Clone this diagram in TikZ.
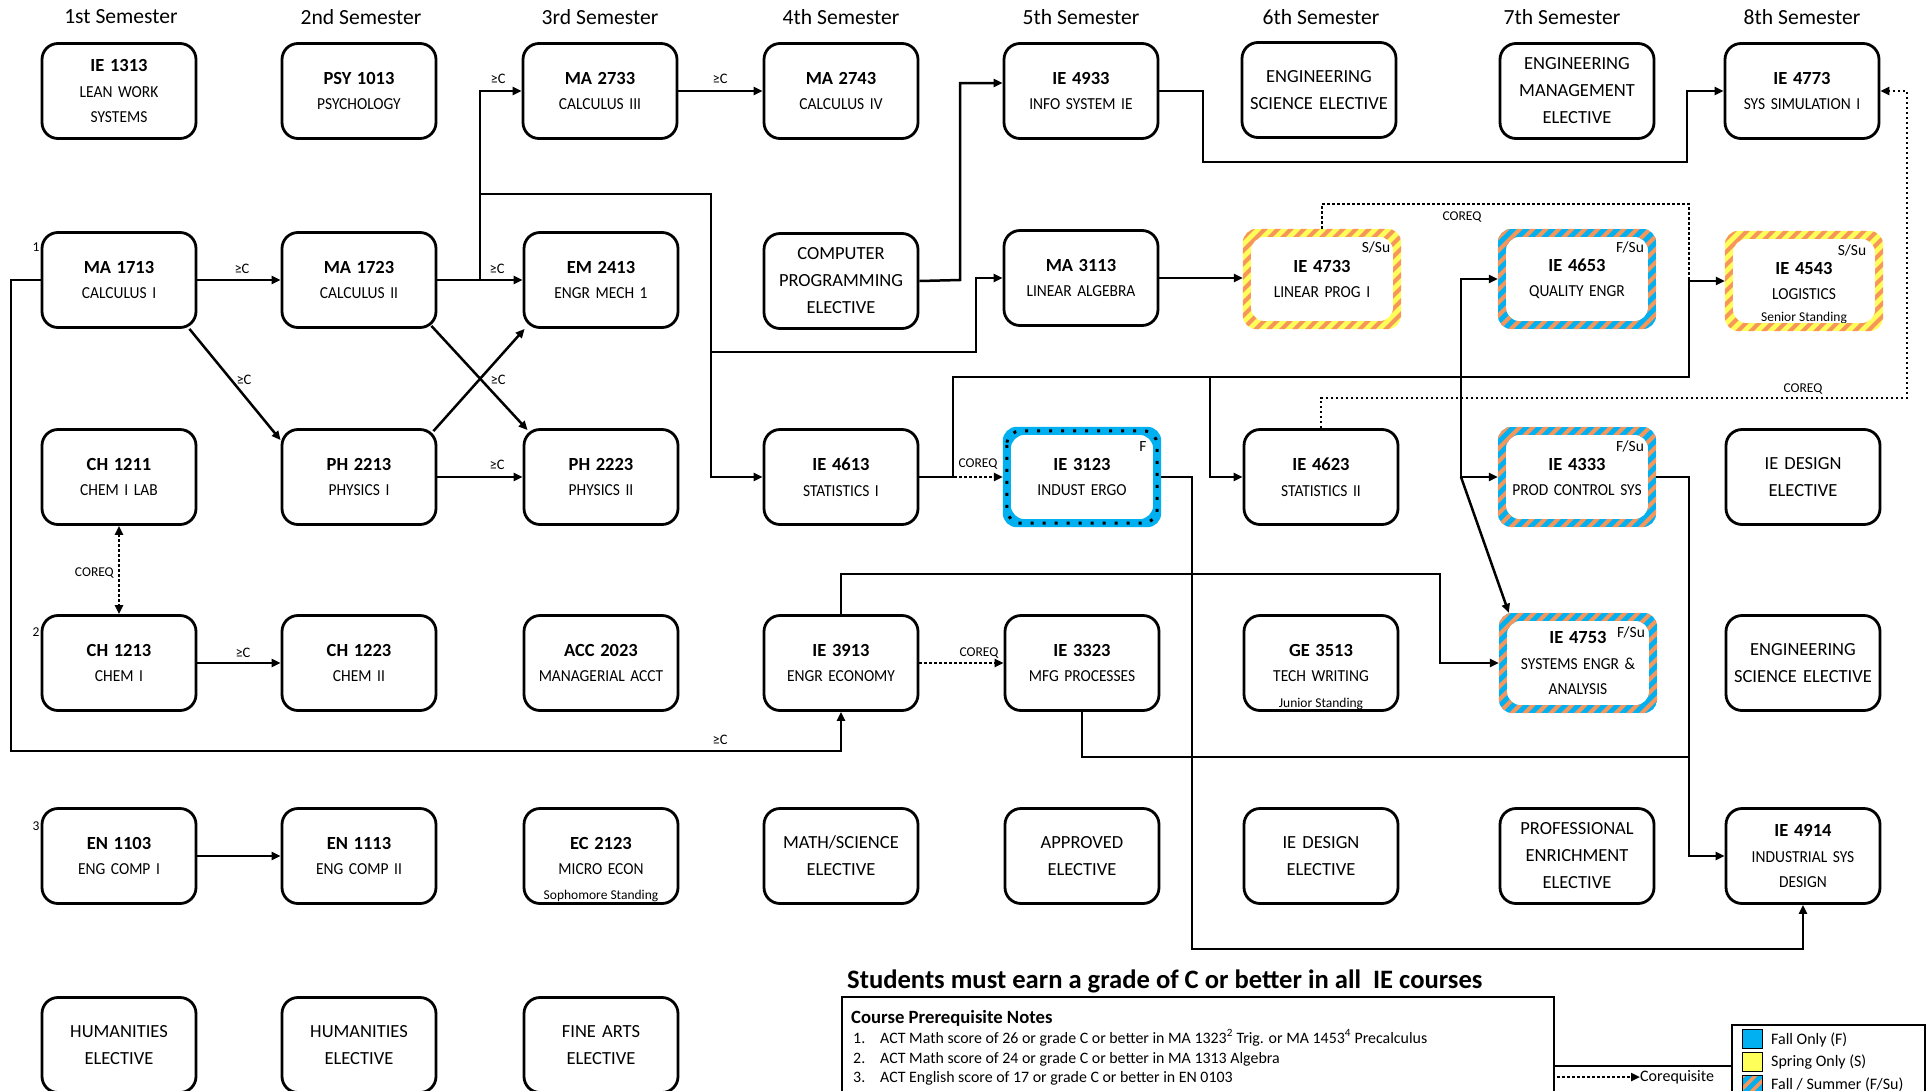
\documentclass[tikz,border=0pt]{standalone}
\usepackage{fontspec}
\setmainfont{Carlito}
\newfontfamily\subfont{Carlito}[FakeStretch=0.92]
\usetikzlibrary{arrows.meta}
\definecolor{fallblue}{RGB}{0,176,240}
\definecolor{springyel}{RGB}{255,255,90}
\definecolor{stripeor}{RGB}{247,150,90}
\tikzset{
  box/.style={draw, line width=2.8pt, rounded corners=16pt, minimum width=154pt, minimum height=95pt, inner sep=0pt, text width=152pt, align=center, font=\subfont\fontsize{16.8}{25.5}\selectfont},
  cbox/.style={minimum width=158pt, minimum height=100pt, inner sep=0pt, text width=150pt, align=center, font=\subfont\fontsize{16.8}{25.5}\selectfont},
  ebox/.style={box, font=\normalfont\fontsize{18.5}{27}\selectfont},
  sem/.style={font=\fontsize{21.6}{24}\selectfont, inner sep=0pt},
  lbl/.style={font=\fontsize{14.5}{15}\selectfont, inner sep=0pt},
  qlbl/.style={font=\fontsize{13.5}{15}\selectfont, inner sep=0pt},
  tag/.style={font=\fontsize{15.5}{17}\selectfont, inner sep=0pt},
  stand/.style={font=\fontsize{13.5}{15}\selectfont, inner sep=0pt},
  conn/.style={line width=2.5pt, -{Triangle[length=9pt,width=8pt]}},
  link/.style={line width=2.5pt},
  coreq/.style={line width=2.8pt, dash pattern=on 2.5pt off 2.5pt, -{Triangle[length=9pt,width=8pt]}},
  coreqln/.style={line width=2.8pt, dash pattern=on 2.5pt off 2.5pt},
  legtxt/.style={font=\fontsize{16}{18}\selectfont, inner sep=0pt, anchor=west},
  notetxt/.style={font=\fontsize{15.9}{17}\selectfont, inner sep=0pt, anchor=base west},
}
\newcommand{\cc}[1]{{\normalfont\fontsize{18.5}{25.5}\selectfont\bfseries #1}}
\newcommand{\stripering}[3]{%
  \begin{scope}[even odd rule]
    \clip[rounded corners=14pt] (#1.north west) rectangle (#1.south east)
      ([shift={(8,8)}]#1.north west) rectangle ([shift={(-8,-8)}]#1.south east);
    \fill[#2] (#1.north west) rectangle (#1.south east);
    \foreach \k in {-140,-127,...,180} \draw[#3, line width=4pt] ([shift={(\k,10)}]#1.south west) -- ++(130,-130);
  \end{scope}}
\begin{document}
\begin{tikzpicture}[x=1pt,y=-1pt]
\useasboundingbox (0,0) rectangle (1927,1090);
\fill[white] (0,0) rectangle (1927,1090);

% semester headings
\node[sem] (s1) at (121,17) {1st Semester};
\node[sem] (s2) at (361,17) {2nd Semester};
\node[sem] (s3) at (600,17) {3rd Semester};
\node[sem] (s4) at (841,17) {4th Semester};
\node[sem] (s5) at (1081,17) {5th Semester};
\node[sem] (s6) at (1321,17) {6th Semester};
\node[sem] (s7) at (1562,17) {7th Semester};
\node[sem] (s8) at (1802,17) {8th Semester};

% row 0
\node[box] (ie1313) at (119,91) {\cc{IE 1313}\\LEAN WORK\\SYSTEMS};
\node[box] (psy1013) at (359,91) {\cc{PSY 1013}\\PSYCHOLOGY};
\node[box] (ma2733) at (600,91) {\cc{MA 2733}\\CALCULUS III};
\node[box] (ma2743) at (841,91) {\cc{MA 2743}\\CALCULUS IV};
\node[box] (ie4933) at (1081,91) {\cc{IE 4933}\\INFO SYSTEM IE};
\node[ebox] (ese6) at (1319,90) {ENGINEERING\\SCIENCE ELECTIVE};
\node[ebox] (eme7) at (1577,91) {ENGINEERING\\MANAGEMENT\\ELECTIVE};
\node[box] (ie4773) at (1802,91) {\cc{IE 4773}\\SYS SIMULATION I};

% row 1
\node[box] (ma1713) at (119,280) {\cc{MA 1713}\\CALCULUS I};
\node[box] (ma1723) at (359,280) {\cc{MA 1723}\\CALCULUS II};
\node[box] (em2413) at (601,280) {\cc{EM 2413}\\ENGR MECH 1};
\node[ebox] (cpe) at (841,281) {COMPUTER\\PROGRAMMING\\ELECTIVE};
\node[box] (ma3113) at (1081,278) {\cc{MA 3113}\\LINEAR ALGEBRA};
\node[cbox] (ie4733) at (1322,279) {\cc{IE 4733}\\LINEAR PROG I};
\node[cbox] (ie4653) at (1577,279) {\cc{IE 4653}\\QUALITY ENGR};
\node[cbox] (ie4543) at (1804,281) {\cc{IE 4543}\\LOGISTICS};

% row 2
\node[box] (ch1211) at (119,477) {\cc{CH 1211}\\CHEM I LAB};
\node[box] (ph2213) at (359,477) {\cc{PH 2213}\\PHYSICS I};
\node[box] (ph2223) at (601,477) {\cc{PH 2223}\\PHYSICS II};
\node[box] (ie4613) at (841,477) {\cc{IE 4613}\\STATISTICS I};
\node[cbox] (ie3123) at (1082,477) {\cc{IE 3123}\\INDUST ERGO};
\node[box] (ie4623) at (1321,477) {\cc{IE 4623}\\STATISTICS II};
\node[cbox] (ie4333) at (1577,477) {\cc{IE 4333}\\PROD CONTROL SYS};
\node[ebox] (ied8) at (1803,477) {IE DESIGN\\ELECTIVE};

% row 3
\node[box] (ch1213) at (119,663) {\cc{CH 1213}\\CHEM I};
\node[box] (ch1223) at (359,663) {\cc{CH 1223}\\CHEM II};
\node[box] (acc2023) at (601,663) {\cc{ACC 2023}\\MANAGERIAL ACCT};
\node[box] (ie3913) at (841,663) {\cc{IE 3913}\\ENGR ECONOMY};
\node[box] (ie3323) at (1082,663) {\cc{IE 3323}\\MFG PROCESSES};
\node[box] (ge3513) at (1321,663) {\cc{GE 3513}\\TECH WRITING};
\node[cbox] (ie4753) at (1578,663) {\cc{IE 4753}\\SYSTEMS ENGR \&\\ANALYSIS};
\node[ebox] (ese8) at (1803,663) {ENGINEERING\\SCIENCE ELECTIVE};

% row 4
\node[box] (en1103) at (119,856) {\cc{EN 1103}\\ENG COMP I};
\node[box] (en1113) at (359,856) {\cc{EN 1113}\\ENG COMP II};
\node[box] (ec2123) at (601,856) {\cc{EC 2123}\\MICRO ECON};
\node[ebox] (mse4) at (841,856) {MATH/SCIENCE\\ELECTIVE};
\node[ebox] (appr5) at (1082,856) {APPROVED\\ELECTIVE};
\node[ebox] (ied6) at (1321,856) {IE DESIGN\\ELECTIVE};
\node[ebox] (pee7) at (1577,856) {PROFESSIONAL\\ENRICHMENT\\ELECTIVE};
\node[box] (ie4914) at (1803,856) {\cc{IE 4914}\\INDUSTRIAL SYS\\DESIGN};

% row 5
\node[ebox] (hum1) at (119,1045) {HUMANITIES\\ELECTIVE};
\node[ebox] (hum2) at (359,1045) {HUMANITIES\\ELECTIVE};
\node[ebox] (fa3) at (601,1045) {FINE ARTS\\ELECTIVE};

% standing notes
\node[stand] (ie4543n) at (1804,318) {Senior Standing};
\node[stand] (ge3513n) at (1321,704) {Junior Standing};
\node[stand] (ec2123n) at (601,896) {Sophomore Standing};

% footnote numbers
\node[qlbl] (f1) at (36,247) {1};
\node[qlbl] (f2) at (36,632) {2};
\node[qlbl] (f3) at (36,826) {3};

% coloured rings
\stripering{ie4733}{springyel}{stripeor}
\stripering{ie4543}{springyel}{stripeor}
\stripering{ie4653}{fallblue}{stripeor}
\stripering{ie4333}{fallblue}{stripeor}
\stripering{ie4753}{fallblue}{stripeor}
\fill[fallblue, even odd rule, rounded corners=14pt] (ie3123.north west) rectangle (ie3123.south east)
  ([shift={(8,8)}]ie3123.north west) rectangle ([shift={(-8,-8)}]ie3123.south east);
\draw[line width=3pt, dash pattern=on 3pt off 9pt, rounded corners=14pt] ([shift={(4,4)}]ie3123.north west) rectangle ([shift={(-4,-4)}]ie3123.south east);

% season tags
\node[tag] (t4733) at (1376,247) {S/Su};
\node[tag] (t4653) at (1630,247) {F/Su};
\node[tag] (t4543) at (1852,250) {S/Su};
\node[tag] (t3123) at (1143,447) {F};
\node[tag] (t4333) at (1630,446) {F/Su};
\node[tag] (t4753) at (1631,632) {F/Su};

% ---------- connectors ----------
\coordinate (jA) at (480,280);
\coordinate (jB) at (480,194);
\coordinate (jD) at (711,352);
\coordinate (jF) at (1210,377);
\coordinate (jG) at (1461,377);
\coordinate (jH) at (1461,477);
\coordinate (jI) at (1689,757);

\draw[conn] (ma1713.east) -- (ma1723.west);
\draw[conn] (ma1723.east) -- (em2413.west);
\draw[conn] (jA) |- (ma2733.west);
\draw[conn] (jB) -- (711,194) |- (ie4613.west);
\draw[conn] (jD) -- (976,352) |- (ma3113.west);
\draw[conn] (ma2733.east) -- (ma2743.west);
\draw[conn] ([shift={(-8,0)}]ma1713.south east) -- ([shift={(0,12)}]ph2213.north west);
\draw[conn] ([shift={(-6,-3)}]ma1723.south east) -- ([shift={(5,2)}]ph2223.north west);
\draw[conn] ([shift={(-4,3)}]ph2213.north east) -- ([shift={(2,0)}]em2413.south west);
\draw[conn] (ph2213.east) -- (ph2223.west);
\draw[coreq, {Triangle[length=9pt,width=8pt]}-{Triangle[length=9pt,width=8pt]}] (ch1211.south) -- (ch1213.north);
\draw[conn] (ch1213.east) -- (ch1223.west);
\draw[conn] (ma1713.west) -| (11,751) -| (ie3913.south);
\draw[conn] (en1103.east) -- (en1113.west);
\draw[conn] (cpe.east) -- (960,280) -- (960,83) -- ([shift={(0,-8)}]ie4933.west);
\draw[conn] (ie4933.east) -- (1203,91) -- (1203,162) -- (1687,162) |- (ie4773.west);
\draw[conn] (ma3113.east) -- (ma3113.east -| ie4733.west);
\draw[coreq] (ie4613.east) -- (ie3123.west);
\draw[conn] (ie4613.east) -- (953,477) -- (953,377) -- (1689,377) |- (ie4543.west);
\draw[conn] (jF) |- (ie4623.west);
\draw[conn] (jG) |- (ie4653.west);
\draw[conn] (jG) |- (ie4333.west);
\draw[conn] (jH) -- ([shift={(10,0)}]ie4753.north west);
\draw[conn] (ie3123.east) -- (1192,477) -- (1192,949) -| (ie4914.south);
\draw[conn] (ie3913.north) |- (1440,574) |- (ie4753.west);
\draw[coreq] (ie3913.east) -- (ie3323.west);
\draw[conn] (ie4333.east) -- (1689,477) |- (ie4914.west);
\draw[link] (ie3323.south) |- (jI);
\draw[coreqln] (ie4733.north) |- (1689,204) -- (1689,281);
\draw[coreq] (ie4623.north) |- (1907,398) |- (ie4773.east);

% connector labels
\node[lbl] (g1) at (242,269) {≥C};
\node[lbl] (g2) at (244,380) {≥C};
\node[lbl] (g3) at (498,79) {≥C};
\node[lbl] (g4) at (497,269) {≥C};
\node[lbl] (g5) at (498,380) {≥C};
\node[lbl] (g6) at (497,465) {≥C};
\node[lbl] (g7) at (720,79) {≥C};
\node[lbl] (g8) at (243,653) {≥C};
\node[lbl] (g9) at (720,740) {≥C};
\node[qlbl, anchor=east] (q1) at (114,573) {COREQ};
\node[qlbl] (q2) at (978,464) {COREQ};
\node[qlbl] (q3) at (979,653) {COREQ};
\node[qlbl] (q4) at (1462,217) {COREQ};
\node[qlbl] (q5) at (1803,389) {COREQ};

% ---------- notes ----------
\node[anchor=base west, inner sep=0pt, font=\fontsize{26.6}{28}\selectfont\bfseries] (hdr) at (847,988) {Students must earn a grade of C or better in all\ \ IE courses};
\draw[line width=1.5pt] (842,997) rectangle (1554,1110);
\node[anchor=base west, inner sep=0pt, font=\fontsize{18.7}{20}\selectfont\bfseries] (cpn) at (851,1023) {Course Prerequisite Notes};
\node[notetxt] (n1) at (853,1043) {1.};
\node[notetxt] (n2) at (853,1063) {2.};
\node[notetxt] (n3) at (853,1082) {3.};
\node[notetxt] (t1) at (880,1043) {ACT Math score of 26 or grade C or better in MA 1323\textsuperscript{2} Trig. or MA 1453\textsuperscript{4} Precalculus};
\node[notetxt] (t2) at (880,1063) {ACT Math score of 24 or grade C or better in MA 1313 Algebra};
\node[notetxt] (t3) at (880,1082) {ACT English score of 17 or grade C or better in EN 0103};

% ---------- legend ----------
\draw[line width=1.5pt] (1554,1066) -- (1732,1066);
\draw[line width=2pt] (1732,1025) rectangle (1925,1110);
\filldraw[fill=fallblue, draw=black, line width=1pt] (1742,1029) rectangle (1762,1048);
\filldraw[fill=springyel, draw=black, line width=1pt] (1742,1052) rectangle (1762,1071);
\begin{scope}
  \clip (1742,1075) rectangle (1762,1095);
  \fill[fallblue] (1742,1075) rectangle (1762,1095);
  \foreach \k in {-20,-8,...,20} \draw[stripeor, line width=3.5pt] (1742+\k,1097) -- ++(24,-24);
\end{scope}
\draw[line width=1pt] (1742,1075) rectangle (1762,1095);
\node[legtxt] (lf) at (1771,1040) {Fall Only (F)};
\node[legtxt] (ls) at (1771,1062) {Spring Only (S)};
\node[legtxt] (lfs) at (1771,1085) {Fall / Summer (F/Su)};
\coordinate (cqa) at (1557,1077);
\node[legtxt] (cqt) at (1640,1077) {Corequisite};
\draw[coreq] (cqa) -- (cqt.west);
\end{tikzpicture}
\end{document}
